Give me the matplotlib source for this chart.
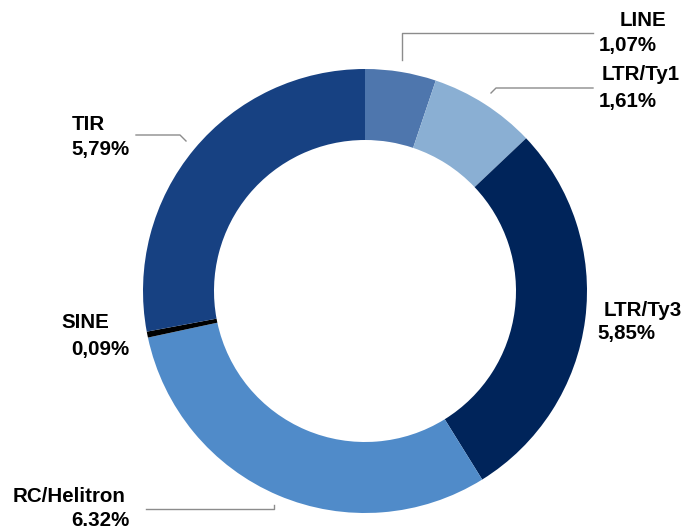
import matplotlib.pyplot as plt

labels = ["LINE", "LTR/Ty1", "LTR/Ty3", "RC/Helitron", "SINE", "TIR"]
shares = [1.07, 1.61, 5.85, 6.32, 0.09, 5.79]
share_text = ["1,07%", "1,61%", "5,85%", "6.32%", "0,09%", "5,79%"]
colors = ["#4e76ad", "#8aafd3", "#00245a", "#508bc9", "#000000", "#174182"]

W, H = 684, 530


def fy(y):
    # pixel rows counted from the top
    return H - y


fig = plt.figure(figsize=(W / 100, H / 100), dpi=100)
ax = fig.add_axes([0, 0, 1, 1])

ax.pie(shares, colors=colors, startangle=90, counterclock=False,
       center=(365, fy(291)), radius=222,
       wedgeprops=dict(width=71, linewidth=0))

# pie() resets the limits, so set them afterwards
ax.set_xlim(0, W)
ax.set_ylim(0, H)
ax.set_aspect("equal")
ax.axis("off")

font = dict(family="Liberation Sans", fontweight="bold", fontsize=14.8,
            color="black", va="center")

# name / value label positions (left edge x, centre y) in pixels
name_pos = [(620, 20), (602, 75), (604, 310), (13, 497), (61, 323), (72, 125)]
val_pos = [(599, 46), (599, 101), (597, 333), (71, 521), (71, 349), (71, 150)]
for name, txt, (nx, ny), (vx, vy) in zip(labels, share_text, name_pos, val_pos):
    ax.text(nx, fy(ny), name, ha="left", **font)
    ax.text(vx, fy(vy), txt, ha="left", **font)

leaders = [
    [(402, 60), (402, 33), (593, 33)],
    [(491, 93), (496, 88), (593, 88)],
    [(186, 141), (180, 135), (136, 135)],
    [(274, 505), (274, 509), (146, 509)],
]
for pts in leaders:
    xs = [p[0] for p in pts]
    ys = [fy(p[1]) for p in pts]
    ax.plot(xs, ys, color="#8c8c8c", lw=1)

fig.savefig("out.png", dpi=100)
